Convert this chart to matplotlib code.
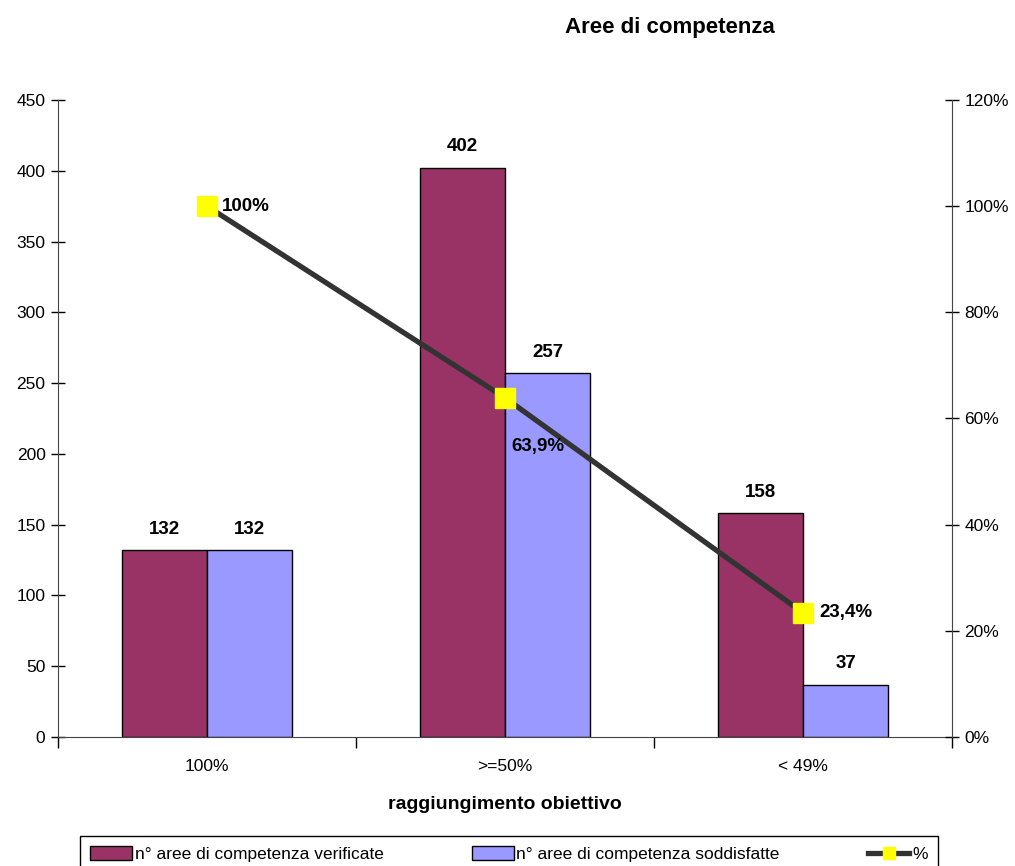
import matplotlib.pyplot as plt
from matplotlib.lines import Line2D
import numpy as np

plt.rcParams['font.family'] = ['Liberation Sans', 'DejaVu Sans']

categories = ['100%', '>=50%', '< 49%']
verificate = [132, 402, 158]
soddisfatte = [132, 257, 37]
percentuale = [100.0, 63.9, 23.4]
pct_labels = ['100%', '63,9%', '23,4%']

fig = plt.figure(figsize=(10.15, 8.66), dpi=100)
ax = fig.add_axes([58 / 1015, 129 / 866, 894 / 1015, 637 / 866])

x = np.arange(len(categories))
w = 1 / 3.5

b1 = ax.bar(x - w / 2, verificate, w, color='#993366', edgecolor='black', linewidth=1,
            label='n° aree di competenza verificate')
b2 = ax.bar(x + w / 2, soddisfatte, w, color='#9999FF', edgecolor='black', linewidth=1,
            label='n° aree di competenza soddisfatte')

for rect, v in list(zip(b1, verificate)) + list(zip(b2, soddisfatte)):
    ax.annotate(str(v), (rect.get_x() + rect.get_width() / 2, v), xytext=(0, 9),
                textcoords='offset points', ha='center', va='bottom',
                fontsize=13.5, fontweight='bold')

ax.set_xlim(-0.5, 2.5)
ax.set_ylim(0, 450)
ax.set_yticks(range(0, 451, 50))
ax.set_xticks([-0.5, 0.5, 1.5, 2.5])
ax.set_xticklabels([])
ax.set_xticks(x, minor=True)
ax.set_xticklabels(categories, minor=True)
ax.tick_params(axis='x', which='minor', length=0, pad=16, labelsize=12.5)
ax.tick_params(axis='x', which='major', length=8, direction='out', width=1)
ax.tick_params(axis='y', direction='inout', length=10, width=1, labelsize=12.5, pad=4)
ax.spines['top'].set_visible(False)
ax.spines['right'].set_visible(False)
for s in ('left', 'bottom'):
    ax.spines[s].set_color('#444444')
ax.set_xlabel('raggiungimento obiettivo', fontsize=14, fontweight='bold', labelpad=16)

ax2 = ax.twinx()
ax2.set_ylim(0, 120)
ax2.set_yticks(range(0, 121, 20))
ax2.set_yticklabels([f'{v}%' for v in range(0, 121, 20)])
ax2.tick_params(axis='y', direction='inout', length=10, width=1, labelsize=12.5, pad=4)
for s in ('top', 'left', 'bottom'):
    ax2.spines[s].set_visible(False)
ax2.spines['right'].set_color('#444444')

ax2.plot(x, percentuale, color='#333333', linewidth=3.8, marker='s',
         markersize=14, markerfacecolor='#FFFF00', markeredgecolor='#FFFF00', zorder=5)

offsets = [(11, 0), (4.5, -35), (11.5, 0)]
for xi, p, lab, (dx, dy) in zip(x, percentuale, pct_labels, offsets):
    ax2.annotate(lab, (xi, p), xytext=(dx, dy), textcoords='offset points',
                 ha='left', va='center', fontsize=13.5, fontweight='bold', zorder=6)

fig.text(670 / 1015, 1 - 27 / 866, 'Aree di competenza', ha='center', va='center',
         fontsize=16, fontweight='bold')

# legend proxy for the line with a smaller marker
ln_proxy = Line2D([], [], color='#333333', linewidth=3.8, marker='s', markersize=9,
                  markerfacecolor='#FFFF00', markeredgecolor='#FFFF00', label='%')

leg = fig.legend(handles=[b1, b2, ln_proxy], loc='upper left', ncol=3, mode='expand',
                 bbox_to_anchor=(80 / 1015, 0, 858 / 1015, 1 - 836 / 866),
                 fancybox=False, edgecolor='black', fontsize=12.5, handlelength=2.4,
                 handleheight=0.8, handletextpad=0.15, borderaxespad=0, framealpha=1,
                 borderpad=0.6)
leg.get_frame().set_linewidth(1)

fig.savefig('out.png', dpi=100)
